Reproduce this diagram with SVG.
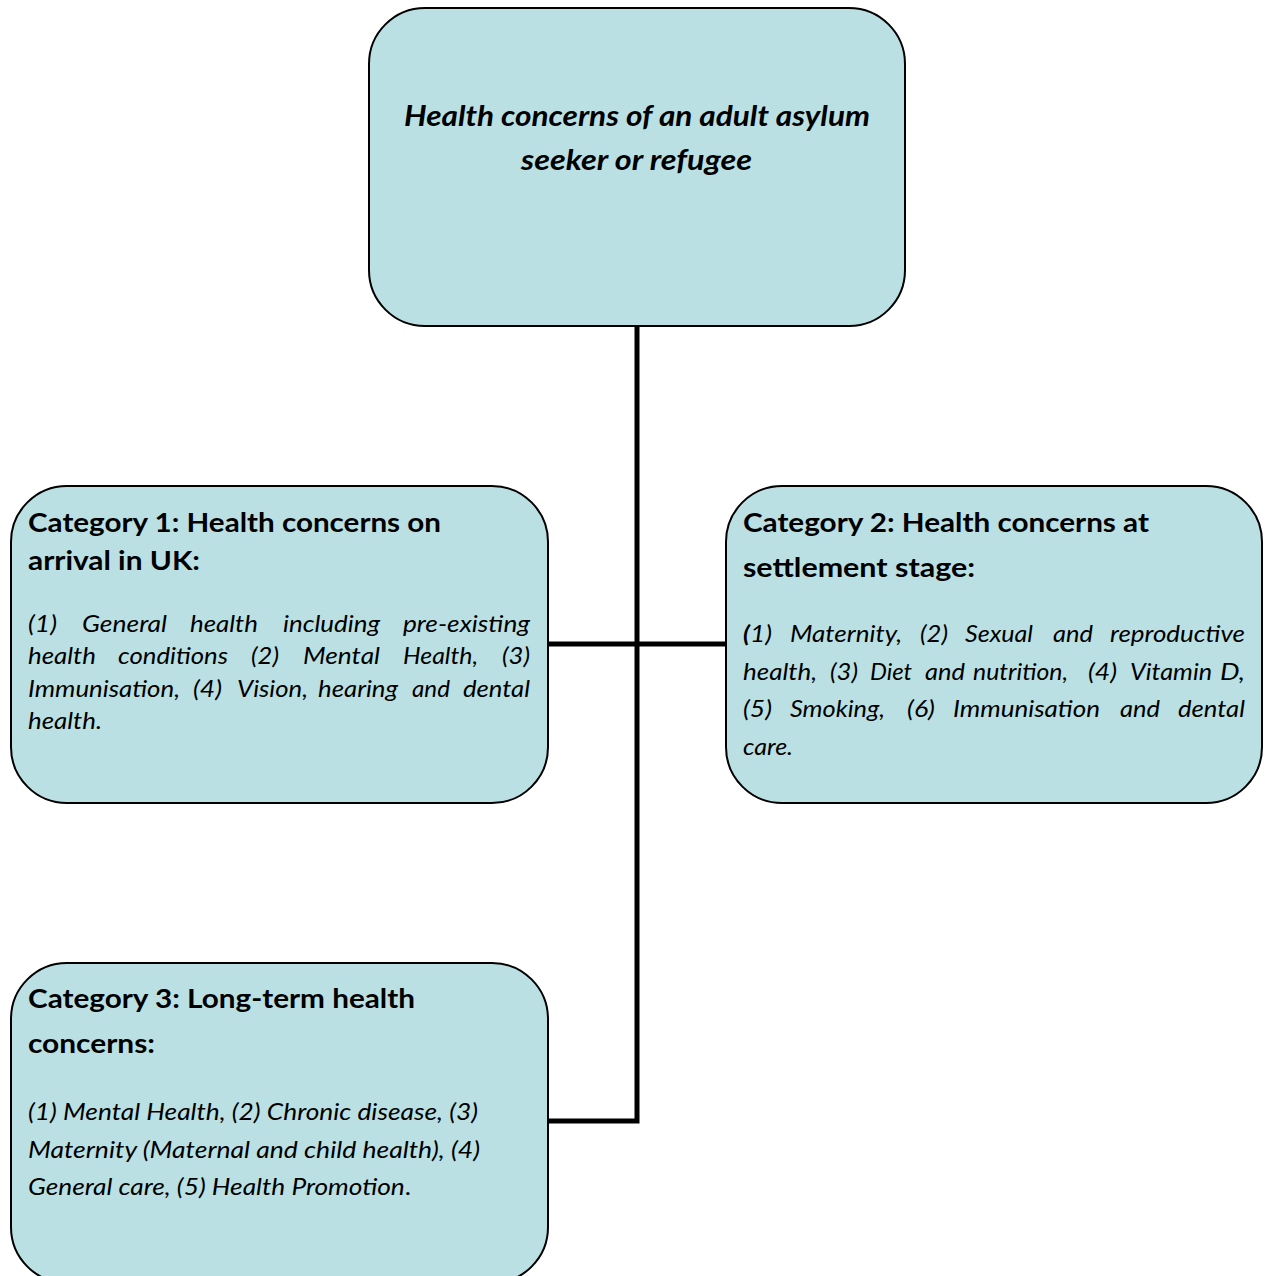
<svg xmlns="http://www.w3.org/2000/svg" width="1269" height="1276" viewBox="0 0 1269 1276">
<style>
.box{fill:#BBE0E3;stroke:#000;stroke-width:2}
.conn{stroke:#000;stroke-width:5;fill:none}
.t{font-family:Lato,"Open Sans","Liberation Sans",sans-serif;fill:#000}
.title{font-size:28px;font-weight:bold;font-style:italic}
.hd{font-size:27px;font-weight:bold}
.bd{font-size:22.5px;font-style:italic}
</style>
<rect width="1269" height="1276" fill="#fff"/>
<g id="connectors">
<path class="conn" d="M637,326 V1121 H548"/>
<path class="conn" d="M548,644 H726"/>
</g>
<g id="root">
<rect class="box" x="369" y="8" width="536" height="318" rx="56" ry="56"/>
<text class="t title" x="404" y="126" textLength="466" lengthAdjust="spacingAndGlyphs">Health concerns of an adult asylum</text>
<text class="t title" x="521" y="170" textLength="231" lengthAdjust="spacingAndGlyphs">seeker or refugee</text>
</g>
<g id="cat1">
<rect class="box" x="11" y="486" width="537" height="317" rx="56" ry="56"/>
<text class="t hd" x="28" y="532" textLength="413" lengthAdjust="spacingAndGlyphs">Category 1: Health concerns on</text>
<text class="t hd" x="28" y="570" textLength="172" lengthAdjust="spacingAndGlyphs">arrival in UK:</text>
<g class="t bd">
<text y="632" x="28" textLength="29" lengthAdjust="spacingAndGlyphs">(1)</text>
<text y="632" x="82" textLength="85" lengthAdjust="spacingAndGlyphs">General</text>
<text y="632" x="190" textLength="68" lengthAdjust="spacingAndGlyphs">health</text>
<text y="632" x="283" textLength="97" lengthAdjust="spacingAndGlyphs">including</text>
<text y="632" x="403" textLength="127" lengthAdjust="spacingAndGlyphs">pre-existing</text>
<text y="664" x="28" textLength="68" lengthAdjust="spacingAndGlyphs">health</text>
<text y="664" x="118" textLength="110" lengthAdjust="spacingAndGlyphs">conditions</text>
<text y="664" x="251" textLength="28" lengthAdjust="spacingAndGlyphs">(2)</text>
<text y="664" x="303" textLength="77" lengthAdjust="spacingAndGlyphs">Mental</text>
<text y="664" x="403" textLength="75" lengthAdjust="spacingAndGlyphs">Health,</text>
<text y="664" x="502" textLength="28" lengthAdjust="spacingAndGlyphs">(3)</text>
<text y="697" x="28" textLength="152" lengthAdjust="spacingAndGlyphs">Immunisation,</text>
<text y="697" x="193" textLength="29" lengthAdjust="spacingAndGlyphs">(4)</text>
<text y="697" x="237" textLength="71" lengthAdjust="spacingAndGlyphs">Vision,</text>
<text y="697" x="318" textLength="80" lengthAdjust="spacingAndGlyphs">hearing</text>
<text y="697" x="412" textLength="38" lengthAdjust="spacingAndGlyphs">and</text>
<text y="697" x="463" textLength="67" lengthAdjust="spacingAndGlyphs">dental</text>
<text y="729" x="28" textLength="74" lengthAdjust="spacingAndGlyphs">health.</text>
</g>
</g>
<g id="cat2">
<rect class="box" x="726" y="486" width="536" height="317" rx="56" ry="56"/>
<text class="t hd" x="743" y="532" textLength="406" lengthAdjust="spacingAndGlyphs">Category 2: Health concerns at</text>
<text class="t hd" x="743" y="577" textLength="232" lengthAdjust="spacingAndGlyphs">settlement stage:</text>
<g class="t bd">
<text y="642" x="743" textLength="29" lengthAdjust="spacingAndGlyphs"><tspan font-weight="bold">(</tspan>1)</text>
<text y="642" x="790" textLength="112" lengthAdjust="spacingAndGlyphs">Maternity,</text>
<text y="642" x="920" textLength="28" lengthAdjust="spacingAndGlyphs">(2)</text>
<text y="642" x="965" textLength="68" lengthAdjust="spacingAndGlyphs">Sexual</text>
<text y="642" x="1053" textLength="40" lengthAdjust="spacingAndGlyphs">and</text>
<text y="642" x="1110" textLength="135" lengthAdjust="spacingAndGlyphs">reproductive</text>
<text y="680" x="743" textLength="74" lengthAdjust="spacingAndGlyphs">health,</text>
<text y="680" x="830" textLength="28" lengthAdjust="spacingAndGlyphs">(3)</text>
<text y="680" x="870" textLength="42" lengthAdjust="spacingAndGlyphs">Diet</text>
<text y="680" x="925" textLength="40" lengthAdjust="spacingAndGlyphs">and</text>
<text y="680" x="973" textLength="95" lengthAdjust="spacingAndGlyphs">nutrition,</text>
<text y="680" x="1088" textLength="29" lengthAdjust="spacingAndGlyphs">(4)</text>
<text y="680" x="1130" textLength="82" lengthAdjust="spacingAndGlyphs">Vitamin</text>
<text y="680" x="1220" textLength="25" lengthAdjust="spacingAndGlyphs">D,</text>
<text y="717" x="743" textLength="29" lengthAdjust="spacingAndGlyphs">(5)</text>
<text y="717" x="790" textLength="95" lengthAdjust="spacingAndGlyphs">Smoking,</text>
<text y="717" x="907" textLength="28" lengthAdjust="spacingAndGlyphs">(6)</text>
<text y="717" x="953" textLength="147" lengthAdjust="spacingAndGlyphs">Immunisation</text>
<text y="717" x="1120" textLength="40" lengthAdjust="spacingAndGlyphs">and</text>
<text y="717" x="1178" textLength="67" lengthAdjust="spacingAndGlyphs">dental</text>
<text y="755" x="743" textLength="50" lengthAdjust="spacingAndGlyphs">care.</text>
</g>
</g>
<g id="cat3">
<rect class="box" x="11" y="963" width="537" height="320" rx="56" ry="56"/>
<text class="t hd" x="28" y="1008" textLength="387" lengthAdjust="spacingAndGlyphs">Category 3: Long-term health</text>
<text class="t hd" x="28" y="1053" textLength="127" lengthAdjust="spacingAndGlyphs">concerns:</text>
<text class="t bd" x="28" y="1120" textLength="450" lengthAdjust="spacingAndGlyphs">(1) Mental Health, (2) Chronic disease, (3)</text>
<text class="t bd" x="28" y="1158" textLength="452" lengthAdjust="spacingAndGlyphs">Maternity (Maternal and child health), (4)</text>
<text class="t bd" x="28" y="1195" textLength="383" lengthAdjust="spacingAndGlyphs">General care, (5) Health Promotion<tspan font-style="normal">.</tspan></text>
</g>
</svg>
